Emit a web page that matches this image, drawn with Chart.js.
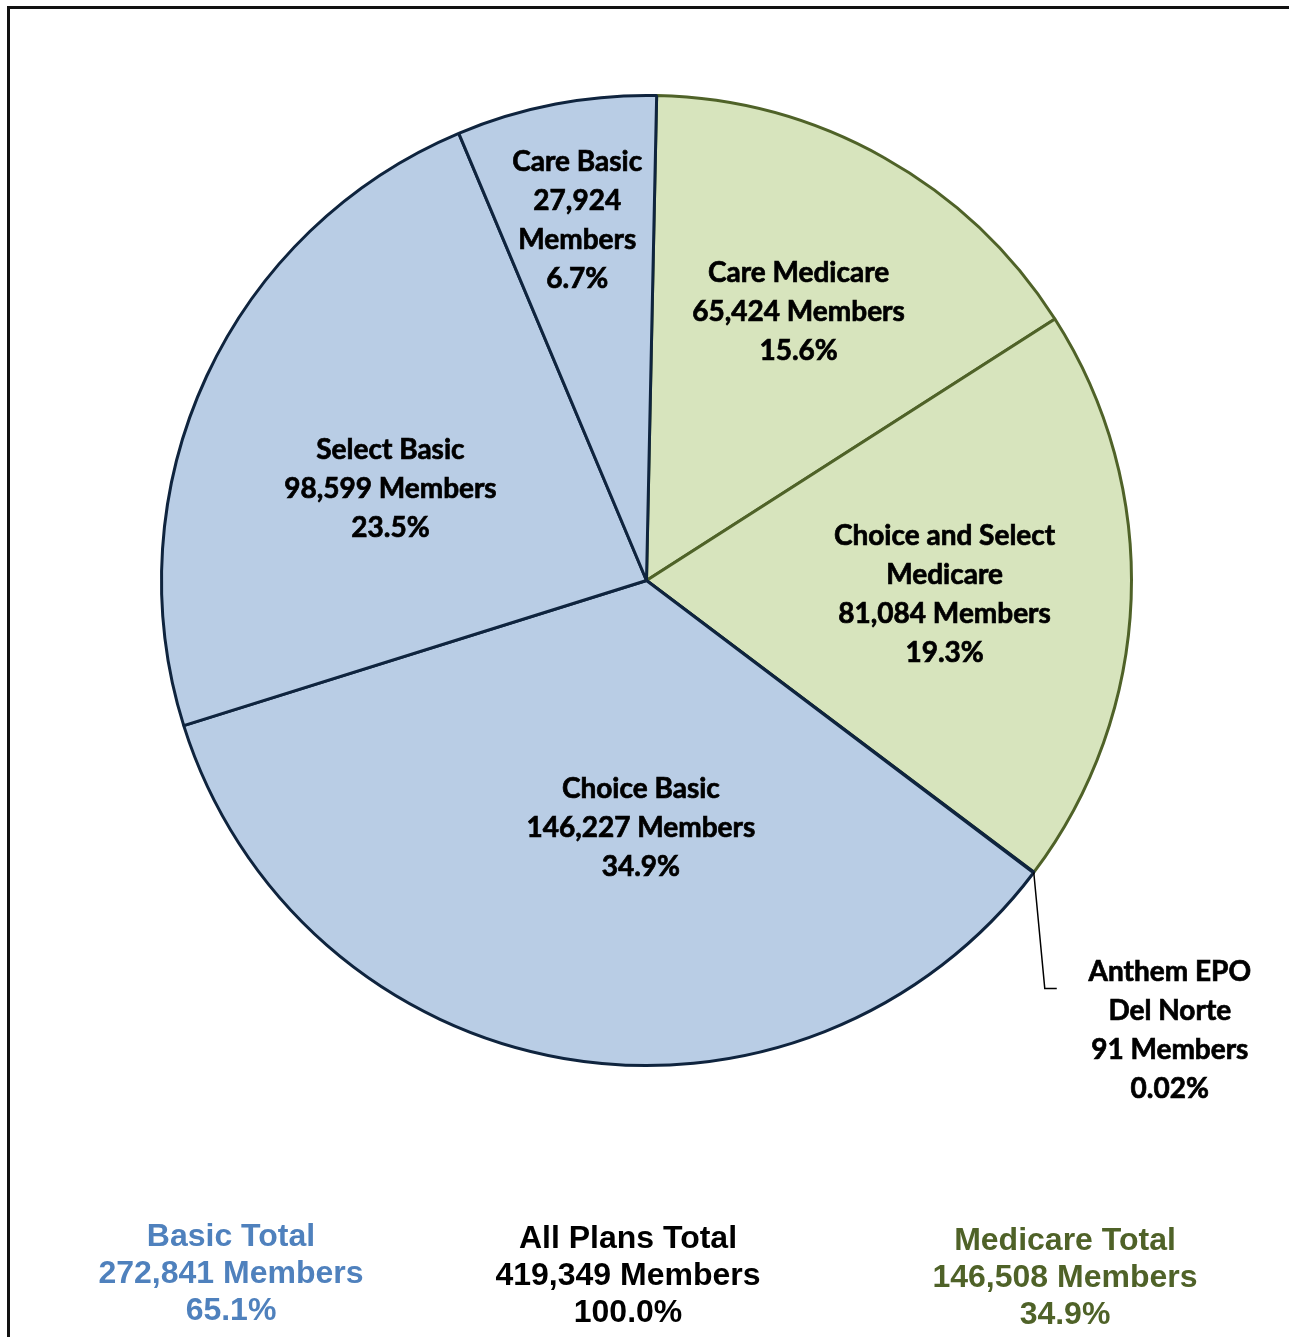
<!DOCTYPE html>
<html>
<head>
<meta charset="utf-8">
<script src="https://cdn.jsdelivr.net/npm/chart.js@4"></script>
<style>
  html, body { margin: 0; padding: 0; background: #fff; overflow: hidden; }
  #wrap { position: relative; width: 1289px; height: 1337px; }
  #frame {
    position: absolute; left: 7px; top: 6px; width: 1400px; height: 1400px;
    border: 3px solid #111; box-sizing: border-box;
  }
  #pieCanvas { position: absolute; left: 0; top: 0; }
  .total {
    position: absolute; width: 400px; text-align: center;
    font-family: "Liberation Sans", Arial, sans-serif; font-weight: bold;
    font-size: 32px; line-height: 37px;
  }
</style>
</head>
<body>
<div id="wrap">
  <div id="frame"></div>
  <canvas id="pieCanvas" width="1289" height="1337"></canvas>
  <div class="total" id="basicTotal" style="left:31px; top:1217px; color:#4F81BD;"></div>
  <div class="total" id="allTotal" style="left:428px; top:1219px; color:#000;"></div>
  <div class="total" id="medicareTotal" style="left:865px; top:1221px; color:#4F6228;"></div>
</div>
<script>
// slice data, clockwise from the top
var planNames = ["Care Medicare", "Choice and Select Medicare", "Anthem EPO Del Norte", "Choice Basic", "Select Basic", "Care Basic"];
var memberCounts = [65424, 81084, 91, 146227, 98599, 27924];
var percentText = ["15.6%", "19.3%", "0.02%", "34.9%", "23.5%", "6.7%"];
var labelLines = [
  ["Care Medicare", "65,424 Members", "15.6%"],
  ["Choice and Select", "Medicare", "81,084 Members", "19.3%"],
  ["Anthem EPO", "Del Norte", "91 Members", "0.02%"],
  ["Choice Basic", "146,227 Members", "34.9%"],
  ["Select Basic", "98,599 Members", "23.5%"],
  ["Care Basic", "27,924", "Members", "6.7%"]
];
var planGroup = ["medicare", "medicare", "basic", "basic", "basic", "basic"];

// totals shown under the pie
var basicTotalLines = ["Basic Total", "272,841 Members", "65.1%"];
var allTotalLines = ["All Plans Total", "419,349 Members", "100.0%"];
var medicareTotalLines = ["Medicare Total", "146,508 Members", "34.9%"];

// where each label sits: fraction of radius, angle nudge (deg), or outside with a leader
var labelPlace = [
  { frac: 0.641, turn: 0 },
  { frac: 0.615, turn: 0 },
  { outside: true, lx: 11, ly: 116, tx: 136, ty: 155 },
  { frac: 0.505, turn: -8.5 },
  { frac: 0.563, turn: -4.6 },
  { frac: 0.763, turn: 0 }
];

var fills = { basic: "#B9CDE5", medicare: "#D7E4BD" };
var borders = { basic: "#0F243E", medicare: "#4F6228" };

function setLines(id, lines) {
  var el = document.getElementById(id);
  if (!el) return;
  el.innerHTML = "";
  lines.forEach(function (t) {
    var d = document.createElement("div");
    d.textContent = t;
    el.appendChild(d);
  });
}

var sliceLabels = {
  id: "sliceLabels",
  afterDatasetsDraw: function (chart) {
    var ctx = chart.ctx;
    var arcs = chart.getDatasetMeta(0).data;
    ctx.save();
    ctx.font = "bold 28px Lato, 'Open Sans', sans-serif";
    ctx.fillStyle = "#000";
    ctx.textAlign = "center";
    ctx.textBaseline = "middle";
    arcs.forEach(function (arc, i) {
      var p = arc.getProps(["x", "y", "startAngle", "endAngle", "outerRadius"], true);
      var place = labelPlace[i];
      var cx, cy;
      if (place.outside) {
        var m = (p.startAngle + p.endAngle) / 2;
        var ex = p.x + Math.cos(m) * p.outerRadius;
        var ey = p.y + Math.sin(m) * p.outerRadius;
        ctx.strokeStyle = "#000";
        ctx.lineWidth = 1.5;
        ctx.beginPath();
        ctx.moveTo(ex, ey);
        ctx.lineTo(ex + place.lx, ey + place.ly);
        ctx.lineTo(ex + place.lx + 12, ey + place.ly);
        ctx.stroke();
        cx = ex + place.tx;
        cy = ey + place.ty;
      } else {
        var mid = (p.startAngle + p.endAngle) / 2 + place.turn * Math.PI / 180;
        cx = p.x + Math.cos(mid) * p.outerRadius * place.frac;
        cy = p.y + Math.sin(mid) * p.outerRadius * place.frac;
      }
      cy += 3;
      var lines = labelLines[i];
      ctx.strokeStyle = "#000";
      ctx.lineWidth = 0.7;
      lines.forEach(function (t, k) {
        var yy = cy + (k - (lines.length - 1) / 2) * 39;
        ctx.fillText(t, cx, yy);
        ctx.strokeText(t, cx, yy);
      });
    });
    ctx.restore();
  }
};

document.addEventListener("DOMContentLoaded", function () {
  setLines("basicTotal", basicTotalLines);
  setLines("allTotal", allTotalLines);
  setLines("medicareTotal", medicareTotalLines);

  var canvas = document.getElementById("pieCanvas");
  new Chart(canvas.getContext("2d"), {
    type: "pie",
    data: {
      labels: planNames,
      datasets: [{
        data: memberCounts,
        backgroundColor: planGroup.map(function (g) { return fills[g]; }),
        borderColor: planGroup.map(function (g) { return borders[g]; }),
        borderWidth: 3
      }]
    },
    options: {
      responsive: false,
      animation: false,
      rotation: 1.2,
      layout: { padding: { left: 160, top: 94, right: 156, bottom: 270 } },
      plugins: {
        legend: { display: false },
        tooltip: { enabled: false }
      }
    },
    plugins: [sliceLabels]
  });
});
</script>
</body>
</html>
